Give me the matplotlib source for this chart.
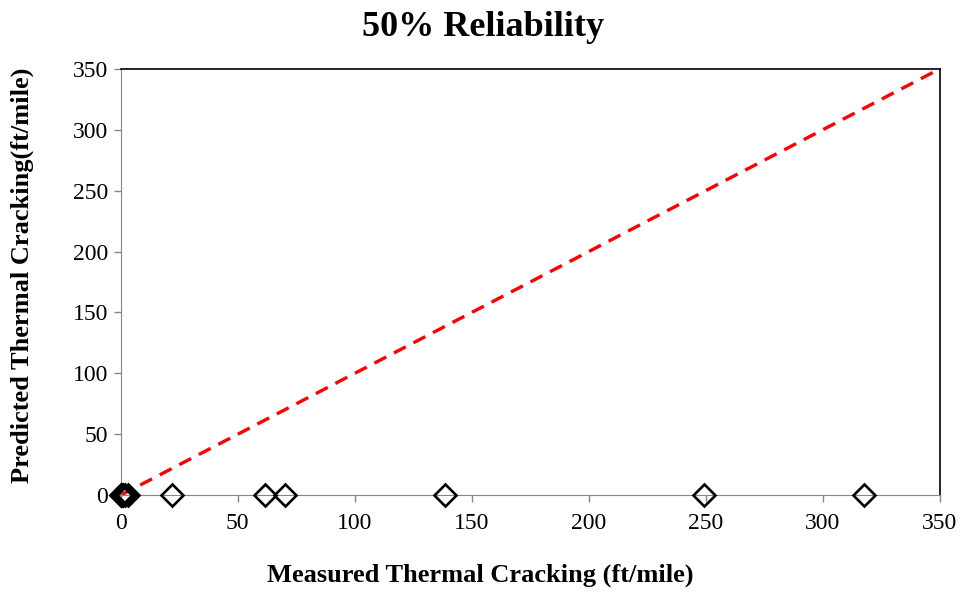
import matplotlib.pyplot as plt

# measured vs predicted thermal cracking (ft/mile)
measured = [0, 0, 0.5, 1, 2, 3, 22, 61.5, 70, 138.5, 249, 317.5]
predicted = [0, 0, 0, 0, 0, 0, 0, 0, 0, 0, 0, 0]
line_eq = [0, 350]
ticks = [0, 50, 100, 150, 200, 250, 300, 350]

plt.rcParams['font.family'] = ['Liberation Serif', 'DejaVu Serif']

fig = plt.figure(figsize=(9.66, 5.93), dpi=100)
ax = fig.add_axes([0.125, 0.165, 0.848, 0.719])

ax.plot(line_eq, line_eq, color='#ff0000', lw=2.4, linestyle=(0, (4, 2.6)),
        zorder=2, clip_on=False)
ax.plot(measured, predicted, linestyle='none', marker='D', ms=11,
        mfc='none', mec='black', mew=1.9, zorder=3, clip_on=False)

ax.set_xlim(0, 350)
ax.set_ylim(0, 350)
ax.set_xticks(ticks)
ax.set_yticks(ticks)
ax.tick_params(direction='out', length=5, width=1, color='#868686',
               labelsize=17)
ax.tick_params(axis='x', pad=8)
ax.tick_params(axis='y', pad=4)

for s in ['left', 'bottom']:
    ax.spines[s].set_color('#868686')
for s in ['top', 'right']:
    ax.spines[s].set_color('black')
    ax.spines[s].set_linewidth(1.2)

fig.text(0.5, 0.953, '50% Reliability', fontsize=26, fontweight='bold',
         ha='center', va='center')
fig.text(0.497, 0.03, 'Measured Thermal Cracking (ft/mile)', fontsize=19,
         fontweight='bold', ha='center', va='center')
fig.text(0.023, 0.535, 'Predicted Thermal Cracking(ft/mile)', fontsize=19,
         fontweight='bold', ha='center', va='center', rotation=90)

fig.savefig('out.png', dpi=100)
